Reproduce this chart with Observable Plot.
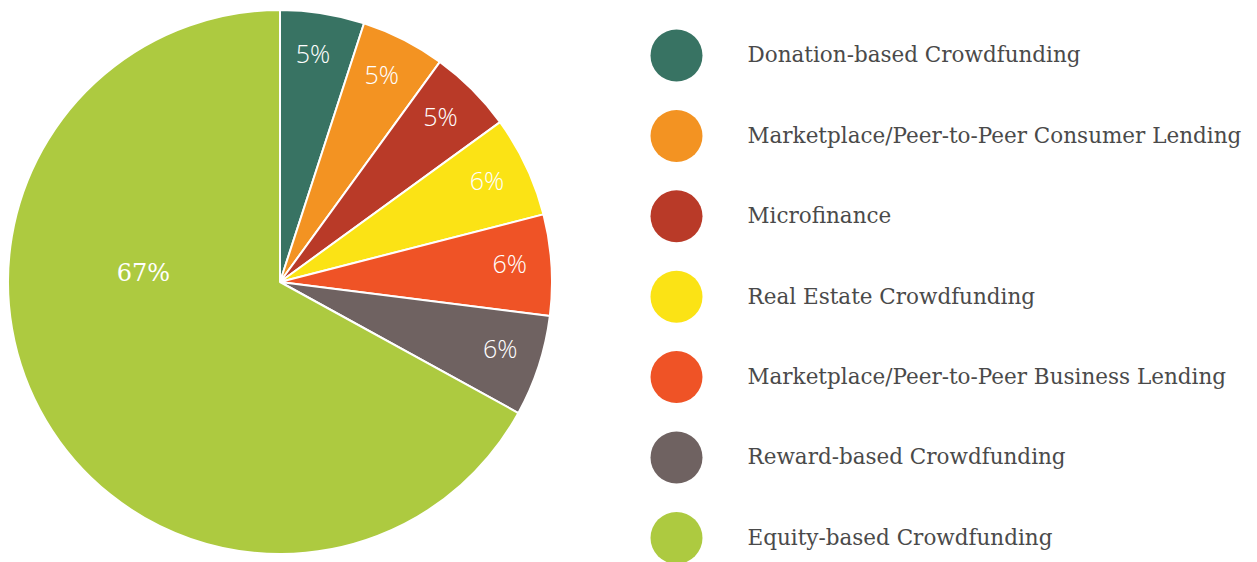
<!DOCTYPE html>
<html>
<head>
<meta charset="utf-8">
<script src="https://cdn.jsdelivr.net/npm/d3@7"></script>
<script src="https://cdn.jsdelivr.net/npm/@observablehq/plot@0.6"></script>
<style>
  html, body { margin: 0; padding: 0; background: #ffffff; }
  #chart svg { display: block; }
</style>
</head>
<body>
<div id="chart"></div>
<script>
// ---- Data ----
const categories = [
  "Donation-based Crowdfunding",
  "Marketplace/Peer-to-Peer Consumer Lending",
  "Microfinance",
  "Real Estate Crowdfunding",
  "Marketplace/Peer-to-Peer Business Lending",
  "Reward-based Crowdfunding",
  "Equity-based Crowdfunding"
];
const shares = [5, 5, 5, 6, 6, 6, 67];
const shareLabels = ["5%", "5%", "5%", "6%", "6%", "6%", "67%"];
const colors = ["#387363", "#F39322", "#B93A28", "#FBE315", "#EF5326", "#6F6261", "#ADCA40"];

// ---- Layout (pixels) ----
const W = 1257, H = 562;
const cxPx = 280, cyPx = 282, R = 272;

const arcs = d3.pie().sort(null).value(d => d)(shares);

// Label positions in data units (radius = 1)
const labelData = arcs.map((a, i) => {
  let ang = (a.startAngle + a.endAngle) / 2 - 0.015, rr = 0.845;
  if (shares[i] > 50) { ang = 1.5 * Math.PI + 0.065; rr = 0.505; }
  return { label: shareLabels[i], x: rr * Math.sin(ang), y: rr * Math.cos(ang), big: shares[i] > 50 };
});

const legendData = categories.map((c, i) => ({
  name: c, color: colors[i],
  y: (cyPx - (55 + i * 80.4)) / R
}));

function pieMark(index, scales) {
  const x0 = scales.x(0), y0 = scales.y(0), r = scales.x(1) - scales.x(0);
  const arc = d3.arc().innerRadius(0).outerRadius(r);
  const g = d3.create("svg:g").attr("transform", `translate(${x0},${y0})`);
  g.selectAll("path").data(arcs).join("path")
    .attr("d", arc)
    .attr("fill", (d, i) => colors[i])
    .attr("stroke", "#ffffff")
    .attr("stroke-width", 2)
    .attr("stroke-linejoin", "round");
  return g.node();
}

const chart = Plot.plot({
  width: W, height: H,
  marginTop: 0, marginRight: 0, marginBottom: 0, marginLeft: 0,
  x: { domain: [-cxPx / R, (W - cxPx) / R], axis: null },
  y: { domain: [-(H - cyPx) / R, cyPx / R], axis: null },
  style: { background: "#ffffff" },
  marks: [
    pieMark,
    Plot.text(labelData.filter(d => !d.big), {
      x: "x", y: "y", text: "label",
      fill: "#ffffff", fontSize: 25, fontFamily: "'Open Sans', sans-serif", fontWeight: 300
    }),
    Plot.text(labelData.filter(d => d.big), {
      x: "x", y: "y", text: "label",
      fill: "#ffffff", fontSize: 24, fontFamily: "'DejaVu Serif', serif", fontWeight: 300
    }),
    Plot.dot(legendData, {
      x: () => (676 - cxPx) / R, y: "y", r: 26, fill: "color", stroke: null
    }),
    Plot.text(legendData, {
      x: () => (747 - cxPx) / R, y: "y", text: "name", textAnchor: "start",
      fill: "#4a4a4a", fontSize: 21.5, fontFamily: "'DejaVu Serif', serif"
    })
  ]
});
document.getElementById("chart").appendChild(chart);
</script>
</body>
</html>
